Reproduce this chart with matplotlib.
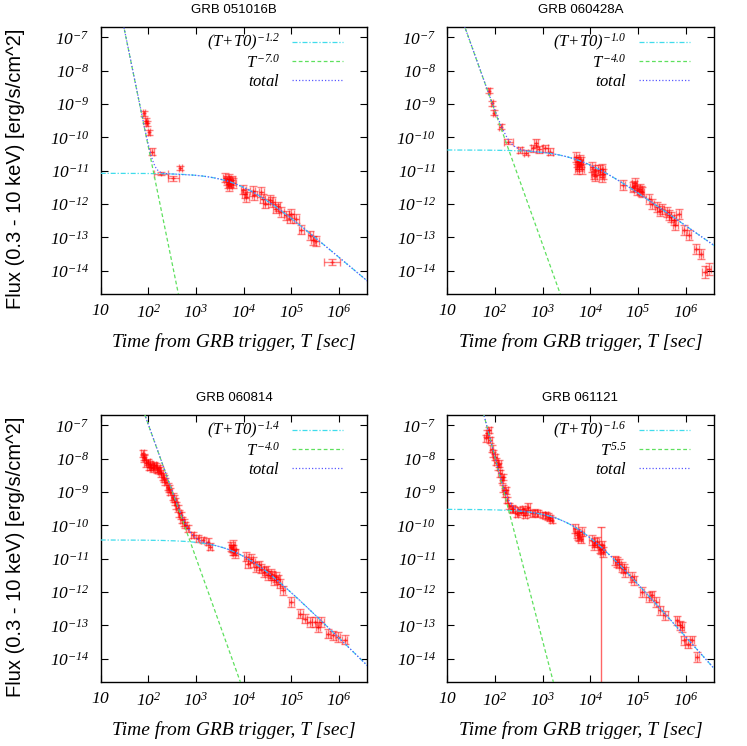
import numpy as np
import matplotlib
matplotlib.use('Agg')
import matplotlib.pyplot as plt

plt.rcParams['mathtext.fontset'] = 'custom'
plt.rcParams['mathtext.rm'] = 'Liberation Serif:italic'
plt.rcParams['mathtext.it'] = 'Liberation Serif:italic'
plt.rcParams['mathtext.bf'] = 'Liberation Serif:italic:bold'
plt.rcParams['font.family'] = 'Liberation Serif'

# ---- data (log10 T [s], log10 F [erg/s/cm^2], errors in dex) ----
titles = ['GRB 051016B', 'GRB 060428A', 'GRB 060814', 'GRB 061121']

lt1 = [1.916, 1.951, 1.965, 2.014, 2.077, 2.266, 2.525, 2.672, 3.618, 3.646, 3.688, 3.723, 3.758,
       3.702, 3.786, 3.674, 3.996, 4.024, 4.052, 4.192, 4.220, 4.367, 4.402, 4.458, 4.556, 4.598,
       4.668, 4.717, 4.787, 4.892, 4.998, 4.962, 5.102, 5.208, 5.397, 5.453, 5.523, 5.852]
lf1 = [-9.28, -9.50, -9.58, -9.85, -10.43, -11.09, -11.23, -10.91, -11.21, -11.29, -11.25, -11.34,
       -11.29, -11.47, -11.37, -11.39, -11.57, -11.69, -11.79, -11.61, -11.74, -11.64, -11.84, -11.99,
       -11.87, -11.94, -12.14, -12.07, -12.24, -12.34, -12.29, -12.44, -12.44, -12.77, -12.94, -13.09,
       -13.11, -13.74]
dlt1 = [0.02, 0.02, 0.02, 0.02, 0.035, 0.15, 0.115, 0.03] + [0.05] * 29 + [0.16]
dlf1 = [0.08, 0.08, 0.08, 0.08, 0.1, 0.05, 0.07, 0.06] + [0.14] * 29 + [0.09]

lt2 = [1.883, 1.932, 1.981, 2.121, 2.282, 2.527, 2.653, 2.807, 2.863, 2.934, 3.053, 3.158, 3.704,
       3.732, 3.760, 3.788, 3.816, 3.774, 4.040, 4.068, 4.103, 4.208, 4.243, 4.264, 4.684, 4.894,
       4.936, 4.978, 5.034, 5.083, 5.223, 5.293, 5.398, 5.454, 5.609, 5.644, 5.749, 5.784, 5.854,
       5.973, 6.064, 6.225, 6.323, 6.400, 6.484,
       3.720, 3.800, 4.090, 4.250, 4.920, 5.060, 5.500, 5.700]
lf2 = [-8.60, -8.98, -9.26, -9.68, -10.13, -10.38, -10.46, -10.33, -10.18, -10.36, -10.33, -10.43,
       -10.60, -10.73, -10.86, -10.68, -10.94, -10.81, -10.89, -11.09, -10.99, -10.99, -11.19, -11.09,
       -11.44, -11.49, -11.37, -11.59, -11.54, -11.64, -11.84, -11.99, -12.09, -12.21, -12.24, -12.34,
       -12.49, -12.64, -12.29, -12.79, -12.94, -13.34, -13.49, -14.04, -13.94,
       -10.95, -10.75, -11.15, -10.95, -11.45, -11.60, -12.15, -12.40]
dlt2 = [0.02, 0.02, 0.02, 0.035, 0.1, 0.05, 0.05, 0.05, 0.05, 0.05, 0.05, 0.05] + [0.05] * 41
dlf2 = [0.08, 0.08, 0.08, 0.08, 0.07, 0.08, 0.08, 0.1, 0.12, 0.1, 0.1, 0.1] + [0.15] * 31 + [0.18, 0.18] + [0.15] * 8

lt3 = [1.881, 1.916, 1.951, 2.007, 2.035, 2.091, 2.126, 2.175, 2.217, 2.266, 2.301, 2.357, 2.406,
       2.455, 2.511, 2.567, 2.616, 2.651, 2.707, 2.777, 2.826, 2.931, 3.037, 3.142, 3.247, 3.296,
       3.737, 3.786, 3.828, 3.772, 4.052, 4.087, 4.192, 4.262, 4.367, 4.437, 4.507, 4.577, 4.626,
       4.682, 4.752, 4.822, 4.997, 5.186, 5.277, 5.383, 5.488, 5.558, 5.628, 5.768, 5.873, 5.978, 6.118,
       1.900, 1.990, 2.060, 2.150, 2.240, 2.330, 2.430, 2.540, 2.590, 2.680, 2.740, 3.750, 3.800,
       4.150, 4.320, 4.470, 4.600, 4.720]
lf3 = [-7.84, -7.99, -8.14, -8.24, -8.16, -8.29, -8.19, -8.34, -8.29, -8.44, -8.54, -8.69, -8.84,
       -8.99, -9.14, -9.29, -9.49, -9.64, -9.84, -9.99, -10.09, -10.29, -10.39, -10.44, -10.49, -10.64,
       -10.64, -10.74, -10.84, -10.59, -10.94, -11.15, -11.10, -11.25, -11.30, -11.40, -11.50, -11.45,
       -11.65, -11.55, -11.75, -11.95, -12.30, -12.65, -12.80, -12.90, -12.90, -13.05, -12.90, -13.25,
       -13.30, -13.35, -13.43,
       -7.95, -8.10, -8.25, -8.22, -8.36, -8.60, -8.90, -9.20, -9.40, -9.70, -9.92, -10.70, -10.80,
       -11.00, -11.20, -11.35, -11.50, -11.62]
dlt3 = [0.035] * 26 + [0.05] * 27 + [0.035] * 13 + [0.05] * 5
dlf3 = [0.1] * 26 + [0.14] * 27 + [0.1] * 13 + [0.14] * 5

lt4 = [1.813, 1.841, 1.883, 1.897, 1.967, 2.023, 2.072, 2.107, 2.142, 2.177, 2.213, 2.247, 2.303,
       2.388, 2.493, 2.598, 2.703, 2.773, 2.913, 3.018, 3.123, 3.193, 2.457, 2.633, 3.683, 3.718,
       3.774, 3.823, 4.033, 4.082, 4.138, 4.208, 4.264, 4.243, 4.523, 4.593, 4.663, 4.733, 4.874,
       4.909, 5.084, 5.224, 5.294, 5.385, 5.469, 5.574, 5.819, 5.875, 5.924, 5.959, 6.043, 6.134, 6.239,
       1.930, 2.000, 2.090, 2.160, 2.230, 2.350, 2.550, 2.650, 2.850, 3.080, 3.160, 3.740, 3.800, 4.100,
       4.230, 4.560, 4.700]
lf4 = [-7.39, -7.24, -7.14, -7.44, -7.84, -8.09, -8.24, -8.44, -8.64, -8.89, -9.04, -9.24, -9.42,
       -9.52, -9.54, -9.52, -9.44, -9.64, -9.64, -9.69, -9.74, -9.84, -9.66, -9.69, -10.09, -10.24,
       -10.34, -10.19, -10.44, -10.60, -10.50, -10.70, -10.80, -10.60, -11.05, -11.15, -11.25, -11.40,
       -11.55, -11.65, -12.00, -12.15, -12.10, -12.30, -12.55, -12.70, -12.85, -13.00, -13.05, -13.45,
       -13.55, -13.45, -13.95,
       -7.70, -7.95, -8.15, -8.55, -8.95, -9.50, -9.60, -9.58, -9.62, -9.70, -9.78, -10.30, -10.40,
       -10.52, -10.72, -11.10, -11.30]
dlt4 = [0.035] * 24 + [0.05] * 29 + [0.035] * 11 + [0.05] * 6
dlf4 = [0.1] * 24 + [0.14] * 29 + [0.1] * 11 + [0.14] * 6

# single point with a huge flux error in GRB 061121
big_t = [1.67e4]
big_f = [1.6e-11]
big_ferr = [7.5e-11]

# ---- fitted model ----
# (T+T0)^-a component: flat level F0, T0, a ; T^-b component: b, log10 B
fit_a = [1.2, 1.0, 1.4, 1.6]
fit_F0 = [10**-11.08, 10**-10.38, 10**-10.44, 10**-9.52]
fit_T0 = [8000., 5400., 8000., 4100.]
fit_b = [7.0, 4.0, 4.0, 5.5]
fit_logB = [3.71, -1.22, 1.02, 3.035]
leg_a = ['-1.2', '-1.0', '-1.4', '-1.6']
leg_b = ['-7.0', '-4.0', '-4.0', '5.5']

data = [(lt1, lf1, dlt1, dlf1), (lt2, lf2, dlt2, dlf2), (lt3, lf3, dlt3, dlf3), (lt4, lf4, dlt4, dlf4)]

fig = plt.figure(figsize=(7.47, 7.46), dpi=100)
W, H = 747., 746.
boxes = [(100.7, 27), (447.3, 27), (100.7, 415), (447.3, 415)]   # left, top in pixels
aw, ah = 266.4, 266.6

xt = [1e1, 1e2, 1e3, 1e4, 1e5, 1e6]
xtl = ['$10$', '$10^{2}$', '$10^{3}$', '$10^{4}$', '$10^{5}$', '$10^{6}$']
yt = [10.0**k for k in range(-14, -6)]
ytl = ['$10^{%d}$' % k for k in range(-14, -6)]

c_cyan = '#3fdcec'
c_green = '#5ee05e'
c_blue = '#5a5aff'

tt = np.logspace(1, 6.62, 500)

for i in range(4):
    l, t = boxes[i]
    ax = fig.add_axes([l / W, 1 - (t + ah) / H, aw / W, ah / H])
    lt, lf, dlt, dlf = data[i]
    T = 10 ** np.array(lt)
    F = 10 ** np.array(lf)
    xe = [T - T * 10 ** -np.array(dlt), T * 10 ** np.array(dlt) - T]
    ye = [F - F * 10 ** -np.array(dlf), F * 10 ** np.array(dlf) - F]
    ax.errorbar(T, F, xerr=xe, yerr=ye, fmt='+', color='red', ms=3.5, mew=1.0,
                ecolor='red', elinewidth=1.0, capsize=3, capthick=1.0, alpha=0.5, zorder=2)
    if i == 3:
        ax.errorbar(big_t, big_f, yerr=big_ferr, fmt='none', ecolor='red', elinewidth=1.0,
                    capsize=3, capthick=1.0, alpha=0.6, zorder=2)

    A = fit_F0[i] * fit_T0[i] ** fit_a[i]
    m1 = A * (tt + fit_T0[i]) ** -fit_a[i]
    m2 = 10 ** fit_logB[i] * tt ** -fit_b[i]
    ax.plot(tt, m1, color=c_cyan, lw=0.9, ls=(0, (4, 1.5, 1, 1.5)), zorder=3)
    ax.plot(tt, m2, color=c_green, lw=0.9, ls=(0, (3, 2)), zorder=3)
    ax.plot(tt, m1 + m2, color=c_blue, lw=0.9, ls=(0, (1, 1.6)), zorder=4)

    ax.set_xscale('log')
    ax.set_yscale('log')
    ax.set_xlim(10, 10 ** 6.59)
    ax.set_ylim(10 ** -14.69, 10 ** -6.69)
    ax.set_xticks(xt, xtl)
    ax.set_yticks(yt, ytl)
    ax.minorticks_off()
    ax.tick_params(direction='in', top=True, right=True, length=5, width=0.8, labelsize=12.5)
    ax.tick_params(axis='x', pad=7)
    ax.tick_params(axis='y', pad=8)
    for s in ax.spines.values():
        s.set_linewidth(1.0)

    # legend (text on the left, sample line on the right, gnuplot style)
    labels = ['$(T{+}T0)^{%s}$' % leg_a[i], '$T^{%s}$' % leg_b[i], '$total$']
    colors = [c_cyan, c_green, c_blue]
    styles = [(0, (4, 1.5, 1, 1.5)), (0, (3, 2)), (0, (1, 1.6))]
    rows = [41.7, 61.0, 80.0]
    shifts = [5.5, 7.0, 6.0]
    for lab, col, st, r, sh in zip(labels, colors, styles, rows, shifts):
        yy = 1 - (r - 27) / ah
        ax.plot([0.719, 0.911], [yy, yy], transform=ax.transAxes, color=col, lw=0.9, ls=st,
                clip_on=False)
        ax.text(0.674, yy - sh / ah, lab, transform=ax.transAxes, ha='right', va='baseline',
                fontsize=12)

    ax.text(0.5, 1 + 16.7 / ah, titles[i], transform=ax.transAxes, ha='center', va='center',
            family='Liberation Sans', fontsize=9.5)
    ax.set_xlabel('Time from GRB trigger, T [sec]', family='Liberation Serif', style='italic',
                  fontsize=14)
    ax.xaxis.set_label_coords(0.5, -48.7 / ah)
    ax.xaxis.label.set_va('center')
    if i % 2 == 0:
        ax.set_ylabel('Flux (0.3 - 10 keV) [erg/s/cm^2]', family='Liberation Sans', fontsize=14.5)
        ax.yaxis.set_label_coords(-84.7 / aw, 0.467)
        ax.yaxis.label.set_va('center')

fig.savefig('out.png', dpi=100)
